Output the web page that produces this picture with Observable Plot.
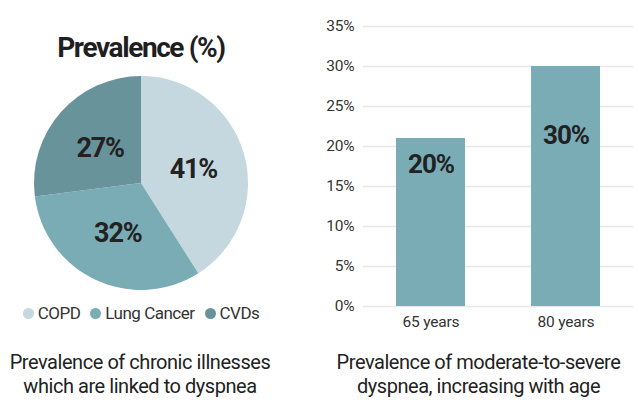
<!DOCTYPE html>
<html>
<head>
<meta charset="utf-8">
<script src="https://cdn.jsdelivr.net/npm/d3@7"></script>
<script src="https://cdn.jsdelivr.net/npm/@observablehq/plot@0.6"></script>
<style>
  html, body { margin: 0; padding: 0; background: #fff; }
  #root { position: relative; width: 639px; height: 412px; overflow: hidden;
    font-family: Roboto, "Noto Sans", sans-serif; color: #222; }
  .abs { position: absolute; }
  #title { left: 0; width: 282px; top: 31px; text-align: center; font-size: 28px; font-weight: bold; line-height: 34px; color: #1f1f1f; letter-spacing: -1.4px; }
  #pie { left: 0; top: 75px; }
  #legend { left: 0; width: 282px; top: 303px; display: flex; justify-content: center; gap: 10px; font-size: 17px; color: #333; line-height: 20px; letter-spacing: -0.5px; }
  #legend .item { display: flex; align-items: center; gap: 4px; }
  #legend .dot { width: 11px; height: 11px; border-radius: 50%; display: inline-block; }
  .cap { font-size: 20px; line-height: 23.5px; text-align: center; color: #222; letter-spacing: -0.45px; }
  #capL { left: 0; width: 280px; top: 351px; }
  #capR { left: 318px; width: 321px; top: 351px; }
  #bars { left: 300px; top: 0; }
</style>
</head>
<body>
<div id="root">
  <div id="title" class="abs">Prevalence (%)</div>
  <div id="pie" class="abs"></div>
  <div id="legend" class="abs"></div>
  <div id="capL" class="abs cap">Prevalence of chronic illnesses<br>which are linked to dyspnea</div>
  <div id="capR" class="abs cap">Prevalence of moderate-to-severe<br>dyspnea, increasing with age</div>
  <div id="bars" class="abs"></div>
</div>
<script>
// ---- data ----
const categories = ["COPD", "Lung Cancer", "CVDs"];
const shares = [41, 32, 27];
const sliceColors = ["#c6d8df", "#7aacb6", "#68939a"];

const ageGroups = ["65 years", "80 years"];
const dyspnea = [21, 30];
const barLabels = ["20%", "30%"];
const yTicks = [0, 5, 10, 15, 20, 25, 30, 35];

const fontFamily = 'Roboto, "Noto Sans", sans-serif';

// ---- pie ----
const pieData = categories.map((c, i) => ({category: c, share: shares[i]}));
const color = Plot.scale({color: {type: "ordinal", domain: categories, range: sliceColors}});

function pieMark(index, scales, values, dimensions) {
  const {width, height} = dimensions;
  const r = Math.min(width, height) / 2 - 1;
  const arcs = d3.pie().sort(null).value(d => d.share)(pieData);
  const arc = d3.arc().innerRadius(0).outerRadius(r);
  const g = d3.create("svg:g").attr("transform", `translate(${width / 2},${height / 2})`);
  g.selectAll("path").data(arcs).join("path")
    .attr("d", arc)
    .attr("fill", d => color.apply(d.data.category));
  const lab = d3.arc().innerRadius(0).outerRadius(r * 1.02);
  g.selectAll("text").data(arcs).join("text")
    .attr("transform", d => `translate(${lab.centroid(d)})`)
    .attr("text-anchor", "middle")
    .attr("dy", "0.36em")
    .attr("font-size", 27)
    .attr("font-weight", "bold")
    .attr("letter-spacing", "-1.2px")
    .attr("fill", "#222")
    .text(d => d.data.share + "%");
  return g.node();
}

const pie = Plot.plot({
  width: 282, height: 216, margin: 0,
  style: {fontFamily, background: "transparent"},
  marks: [pieMark]
});
document.getElementById("pie").appendChild(pie);

// legend
const legend = document.getElementById("legend");
categories.forEach(c => {
  const item = document.createElement("div");
  item.className = "item";
  const dot = document.createElement("span");
  dot.className = "dot";
  dot.style.background = color.apply(c);
  const t = document.createElement("span");
  t.textContent = c;
  item.appendChild(dot); item.appendChild(t);
  legend.appendChild(item);
});

// ---- bars ----
const barData = ageGroups.map((a, i) => ({age: a, value: dyspnea[i], label: barLabels[i]}));

const bars = Plot.plot({
  width: 339, height: 340,
  marginLeft: 63, marginRight: 6, marginTop: 26, marginBottom: 34,
  style: {fontFamily, fontSize: "15.5px", color: "#333", background: "transparent", letterSpacing: "-0.2px"},
  x: {domain: ageGroups, paddingInner: 0.49, paddingOuter: 0.245, label: null},
  y: {domain: [0, 35], label: null},
  marks: [
    Plot.gridY(yTicks, {stroke: "#e8e8e8", strokeOpacity: 1, strokeWidth: 1.6}),
    Plot.barY(barData, {x: "age", y: "value", fill: "#7aacb6"}),
    Plot.axisY({ticks: yTicks, tickSize: 0, tickPadding: 9, tickFormat: d => d + "%", label: null}),
    Plot.axisX({tickSize: 0, tickPadding: 9, label: null}),
    Plot.text(barData.filter(d => d.age === ageGroups[0]), {x: "age", y: "value", text: "label", lineAnchor: "bottom", dy: 34, fontSize: 26, fontWeight: "bold", fill: "#222"}),
    Plot.text(barData.filter(d => d.age === ageGroups[1]), {x: "age", y: "value", text: "label", lineAnchor: "bottom", dy: 77, fontSize: 26, fontWeight: "bold", fill: "#222"})
  ]
});
bars.querySelectorAll("text").forEach(t => {
  if (t.getAttribute("font-weight") === "bold" || (t.parentNode && t.parentNode.getAttribute && t.parentNode.getAttribute("font-weight") === "bold")) t.setAttribute("letter-spacing", "-1px");
});
document.getElementById("bars").appendChild(bars);
</script>
</body>
</html>
